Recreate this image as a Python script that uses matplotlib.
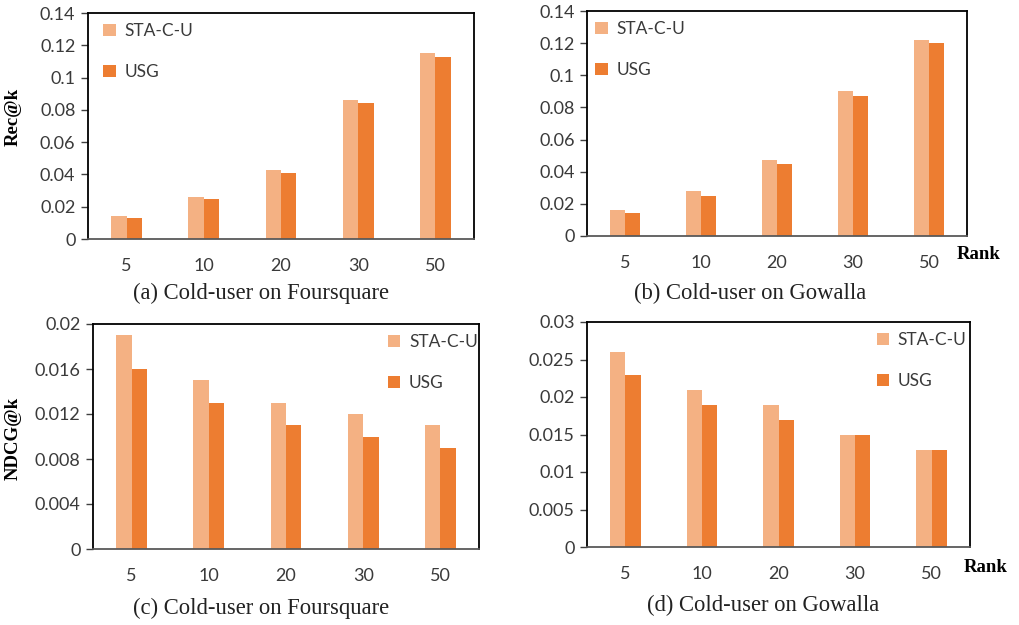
import matplotlib
matplotlib.use("Agg")
import matplotlib.pyplot as plt
import numpy as np

ranks = ["5", "10", "20", "30", "50"]
series_names = ["STA-C-U", "USG"]

rec_fs_sta = [0.014, 0.026, 0.043, 0.086, 0.115]
rec_fs_usg = [0.013, 0.025, 0.041, 0.084, 0.113]
rec_gw_sta = [0.016, 0.028, 0.047, 0.090, 0.122]
rec_gw_usg = [0.014, 0.025, 0.045, 0.087, 0.120]
ndcg_fs_sta = [0.019, 0.015, 0.013, 0.012, 0.011]
ndcg_fs_usg = [0.016, 0.013, 0.011, 0.010, 0.009]
ndcg_gw_sta = [0.026, 0.021, 0.019, 0.015, 0.013]
ndcg_gw_usg = [0.023, 0.019, 0.017, 0.015, 0.013]

rec_ticks = [0, 0.02, 0.04, 0.06, 0.08, 0.1, 0.12, 0.14]
rec_ticklabels = ["0", "0.02", "0.04", "0.06", "0.08", "0.1", "0.12", "0.14"]
ndcg_fs_ticks = [0, 0.004, 0.008, 0.012, 0.016, 0.02]
ndcg_fs_ticklabels = ["0", "0.004", "0.008", "0.012", "0.016", "0.02"]
ndcg_gw_ticks = [0, 0.005, 0.01, 0.015, 0.02, 0.025, 0.03]
ndcg_gw_ticklabels = ["0", "0.005", "0.01", "0.015", "0.02", "0.025", "0.03"]

captions = ["(a) Cold-user on Foursquare", "(b) Cold-user on Gowalla",
            "(c) Cold-user on Foursquare", "(d) Cold-user on Gowalla"]

C_STA = "#F4B183"
C_USG = "#ED7D31"
TICK_FONT = "Lato"
SERIF = "Liberation Serif"
TXT = "#3a3a3a"

W, H = 1019, 625
fig = plt.figure(figsize=(W / 100, H / 100), dpi=100)


def px_axes(l, t, r, b):
    return fig.add_axes([l / W, 1 - b / H, (r - l) / W, (b - t) / H])


panels = [
    dict(box=(88, 13, 474, 239), sta=rec_fs_sta, usg=rec_fs_usg, ticks=rec_ticks,
         tl=rec_ticklabels, ymax=0.14, leg=(0.03, 0.97), cap=(261, 293)),
    dict(box=(587, 11, 967, 236), sta=rec_gw_sta, usg=rec_gw_usg, ticks=rec_ticks,
         tl=rec_ticklabels, ymax=0.14, leg=(0.012, 0.97), cap=(750, 293)),
    dict(box=(93, 324, 479, 549), sta=ndcg_fs_sta, usg=ndcg_fs_usg, ticks=ndcg_fs_ticks,
         tl=ndcg_fs_ticklabels, ymax=0.02, leg=(0.755, 0.97), cap=(261, 608)),
    dict(box=(587, 322, 970, 547), sta=ndcg_gw_sta, usg=ndcg_gw_usg, ticks=ndcg_gw_ticks,
         tl=ndcg_gw_ticklabels, ymax=0.03, leg=(0.747, 0.97), cap=(763, 605)),
]

x = np.arange(len(ranks))
bw = 0.2
for i, p in enumerate(panels):
    ax = px_axes(*p["box"])
    ax.bar(x - bw / 2, p["sta"], bw, color=C_STA, label=series_names[0], zorder=2)
    ax.bar(x + bw / 2, p["usg"], bw, color=C_USG, label=series_names[1], zorder=2)
    ax.set_xlim(-0.5, len(ranks) - 0.5)
    ax.set_ylim(0, p["ymax"])
    ax.set_yticks(p["ticks"])
    ax.set_yticklabels(p["tl"], fontfamily=TICK_FONT, fontsize=13, color=TXT)
    ax.set_xticks(x)
    ax.set_xticklabels(ranks, fontfamily=TICK_FONT, fontsize=13, color=TXT)
    ax.tick_params(axis="x", length=0, pad=14)
    ax.tick_params(axis="y", length=5, width=1, color="#404040", direction="out", pad=4)
    for s in ax.spines.values():
        s.set_color("black")
        s.set_linewidth(1.3)
    ax.spines["bottom"].set_color("#595959")
    leg = ax.legend(loc="upper left", bbox_to_anchor=p["leg"], frameon=False,
                    prop={"family": TICK_FONT, "size": 12.5}, handlelength=0.72,
                    handleheight=0.72, handletextpad=0.5, labelspacing=1.42,
                    borderaxespad=0, borderpad=0.2)
    for t in leg.get_texts():
        t.set_color(TXT)
    fig.text(p["cap"][0] / W, 1 - p["cap"][1] / H, captions[i], fontfamily=SERIF,
             fontsize=16.3, ha="center", va="center", color="#222222")

fig.text(13 / W, 1 - 117 / H, "Rec@k", fontfamily=SERIF, fontweight="bold",
         fontsize=13.5, rotation=90, ha="center", va="center")
fig.text(13 / W, 1 - 438 / H, "NDCG@k", fontfamily=SERIF, fontweight="bold",
         fontsize=13.5, rotation=90, ha="center", va="center")
fig.text(979 / W, 1 - 255 / H, "Rank", fontfamily=SERIF, fontweight="bold",
         fontsize=13.5, ha="center", va="center")
fig.text(986 / W, 1 - 567 / H, "Rank", fontfamily=SERIF, fontweight="bold",
         fontsize=13.5, ha="center", va="center")

fig.savefig("out.png", dpi=100)
